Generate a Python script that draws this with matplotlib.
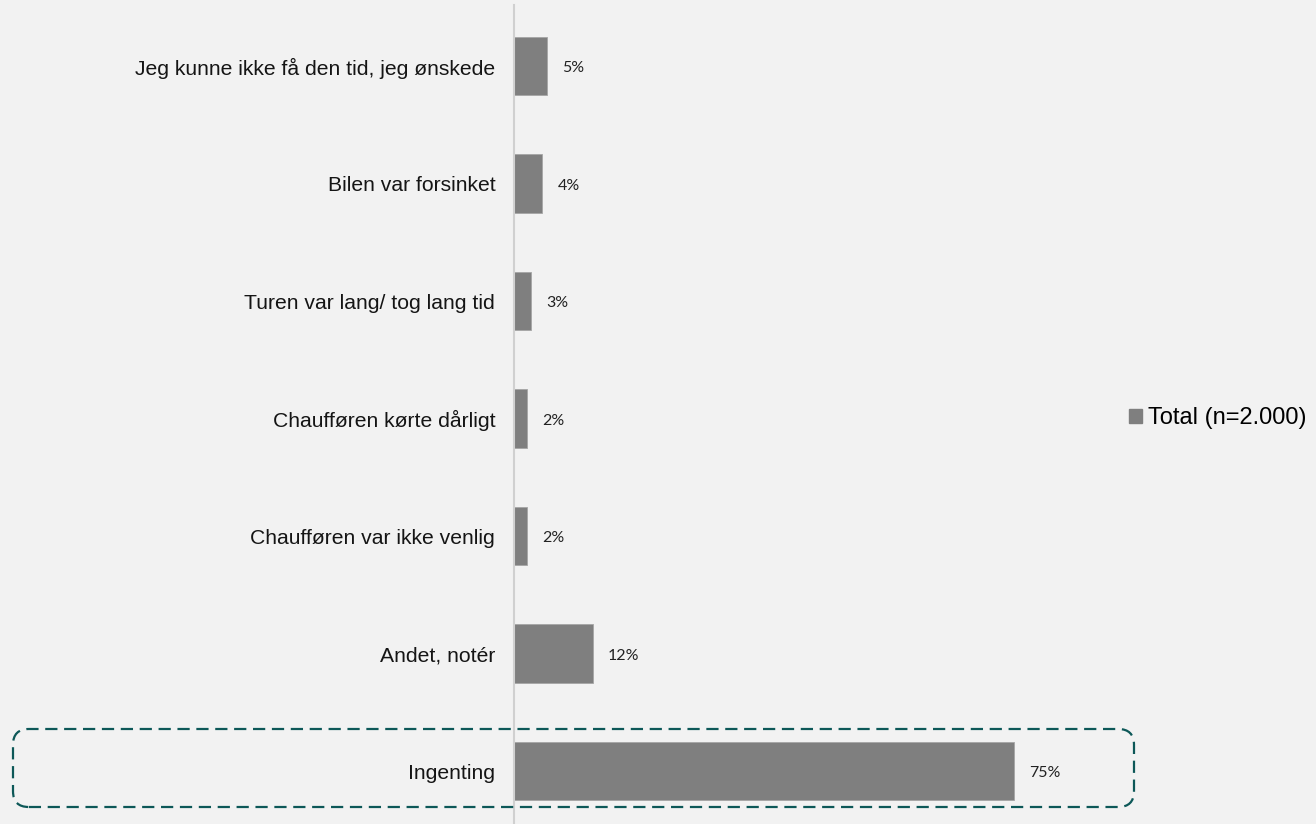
import matplotlib
matplotlib.use('Agg')
import matplotlib.pyplot as plt
from matplotlib.patches import FancyBboxPatch, Patch

categories = ['Ingenting', 'Andet, notér', 'Chaufføren var ikke venlig',
              'Chaufføren kørte dårligt', 'Turen var lang/ tog lang tid',
              'Bilen var forsinket', 'Jeg kunne ikke få den tid, jeg ønskede']
values = [75, 11.8, 2.0, 2.0, 2.5, 4.2, 4.9]
value_labels = ['75%', '12%', '2%', '2%', '3%', '4%', '5%']
series_name = 'Total (n=2.000)'

BG = '#f2f2f2'
BAR = '#7f7f7f'
BOX = '#0d5858'

plt.rcParams['font.family'] = ['Liberation Sans', 'DejaVu Sans']

W, H = 1316, 824
fig = plt.figure(figsize=(W / 100, H / 100), dpi=100, facecolor=BG)
ax = fig.add_axes([514 / W, 0, (1080 - 514) / W, 819 / H])
ax.set_facecolor(BG)

y = list(range(len(categories)))
ax.barh(y, values, height=0.5, color=BAR, edgecolor='#a6a6a6', linewidth=0.6,
        label=series_name, zorder=2)
for yi, v, lab in zip(y, values, value_labels):
    ax.text(v + 2.3, yi - 0.02, lab, va='center', ha='left', fontsize=11.5,
            family=['Lato', 'DejaVu Sans'], color='#222222')

ax.set_xlim(0, 75 * (1080 - 514) / 500)
ax.set_ylim(-0.45, 6.52)
ax.set_yticks(y)
ax.set_yticklabels(categories, fontsize=15.2, color='#151515')
ax.tick_params(axis='y', length=0, pad=13.5)
ax.set_xticks([])
for s in ['top', 'right', 'bottom']:
    ax.spines[s].set_visible(False)
ax.spines['left'].set_color('#d0d0d0')
ax.spines['left'].set_linewidth(1.5)

# legend
fig.legend(handles=[Patch(color=BAR, label=series_name)], loc='center left',
           bbox_to_anchor=(1129 / W, 1 - 418 / H), frameon=False, fontsize=17,
           handlelength=0.55, handleheight=0.55, handletextpad=0.25,
           borderpad=0, borderaxespad=0)

# dashed highlight box around Ingenting
x0, x1, y0, y1 = 13, 1134, 729, 807
box = FancyBboxPatch((x0 / W, 1 - y1 / H), (x1 - x0) / W, (y1 - y0) / H,
                     boxstyle='round,pad=0,rounding_size=0.012',
                     transform=fig.transFigure, fill=False, edgecolor=BOX,
                     linewidth=1.6, linestyle=(0, (5.5, 3)), mutation_aspect=W / H)
fig.patches.append(box)

fig.savefig('out.png', dpi=100, facecolor=BG)
